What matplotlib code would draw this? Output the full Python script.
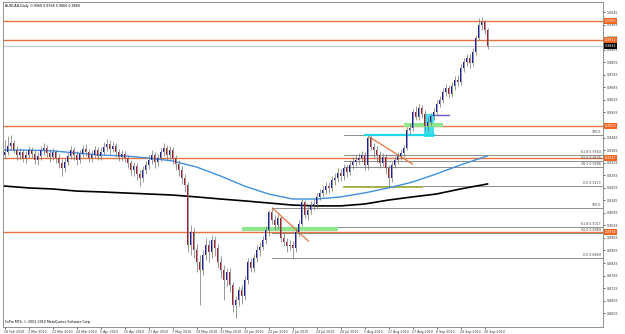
import numpy as np
import matplotlib
matplotlib.use('Agg')
import matplotlib.pyplot as plt
from matplotlib.patches import Rectangle

# Заголовок окна графика
chart_title = 'AUDCAD,Daily  0.9960 0.9968 0.9866 0.9884'
copyright_text = 'FxPro MT4, \u00a9 2001-2010 MetaQuotes Software Corp.'

# Дневные свечи (оценка по картинке)
opens = [
    0.9361, 0.9376, 0.9404, 0.9419, 0.9385, 0.9361, 0.9376, 0.9347, 0.9361, 0.9385, 0.9366, 0.9338, 0.9357, 0.9385, 0.9395, 0.9371,
    0.9352, 0.9376, 0.9347, 0.9323, 0.9299, 0.9328, 0.9357, 0.9385, 0.9361, 0.9338, 0.9366, 0.9390, 0.9376, 0.9347, 0.9361, 0.9385,
    0.9357, 0.9376, 0.9400, 0.9414, 0.9390, 0.9404, 0.9376, 0.9352, 0.9366, 0.9347, 0.9323, 0.9290, 0.9309, 0.9271, 0.9251, 0.9290,
    0.9314, 0.9338, 0.9361, 0.9328, 0.9347, 0.9376, 0.9395, 0.9361, 0.9385, 0.9347, 0.9318,
    0.9290, 0.9251, 0.9218, 0.8931, 0.8994, 0.8907, 0.8850, 0.8812, 0.8883, 0.8931, 0.8898, 0.8955, 0.8917, 0.8850, 0.8812, 0.8764,
    0.8802, 0.8740, 0.8644, 0.8668, 0.8716, 0.8688,
    0.8764, 0.8850, 0.8821, 0.8869, 0.8907, 0.8922, 0.8955, 0.9003, 0.9089, 0.9051, 0.9027, 0.9060, 0.8965, 0.8946, 0.8927, 0.8931,
    0.8917, 0.8994, 0.9032, 0.9137,
    0.9075, 0.9099, 0.9118, 0.9127, 0.9161, 0.9180, 0.9194, 0.9213, 0.9204, 0.9242, 0.9251, 0.9275, 0.9261, 0.9299, 0.9280, 0.9314,
    0.9328, 0.9338, 0.9347, 0.9361,
    0.9314, 0.9443, 0.9400, 0.9385, 0.9361, 0.9323, 0.9352, 0.9299, 0.9251, 0.9314, 0.9338, 0.9357, 0.9371, 0.9395, 0.9481, 0.9491,
    0.9567, 0.9543, 0.9586, 0.9557,
    0.9500, 0.9519, 0.9548, 0.9567, 0.9605, 0.9624, 0.9662, 0.9682, 0.9653, 0.9691, 0.9720, 0.9710, 0.9777, 0.9806, 0.9825, 0.9801,
    0.9854, 0.9921, 0.9983, 0.9997, 0.9960,
]
highs = [
    0.9433, 0.9452, 0.9457, 0.9433, 0.9404, 0.9395, 0.9390, 0.9381, 0.9404, 0.9400, 0.9385, 0.9376, 0.9404, 0.9419, 0.9409, 0.9390,
    0.9395, 0.9385, 0.9366, 0.9342, 0.9347, 0.9376, 0.9404, 0.9400, 0.9381, 0.9385, 0.9409, 0.9414, 0.9390, 0.9385, 0.9404, 0.9400,
    0.9400, 0.9423, 0.9438, 0.9433, 0.9423, 0.9419, 0.9390, 0.9385, 0.9381, 0.9361, 0.9338, 0.9328, 0.9323, 0.9290, 0.9309, 0.9333,
    0.9361, 0.9385, 0.9376, 0.9366, 0.9395, 0.9419, 0.9409, 0.9404, 0.9400, 0.9361, 0.9338,
    0.9309, 0.9271, 0.9232, 0.9027, 0.9012, 0.8936, 0.8883, 0.8907, 0.8965, 0.8955, 0.8979, 0.8974, 0.8936, 0.8879, 0.8835, 0.8821,
    0.8821, 0.8754, 0.8688, 0.8735, 0.8740, 0.8783,
    0.8869, 0.8869, 0.8888, 0.8931, 0.8946, 0.8974, 0.9022, 0.9099, 0.9108, 0.9075, 0.9080, 0.9070, 0.8994, 0.8965, 0.8955, 0.8950,
    0.9012, 0.9051, 0.9151, 0.9146,
    0.9122, 0.9142, 0.9151, 0.9180, 0.9199, 0.9213, 0.9232, 0.9232, 0.9261, 0.9275, 0.9299, 0.9295, 0.9318, 0.9314, 0.9338, 0.9352,
    0.9361, 0.9371, 0.9381, 0.9376,
    0.9457, 0.9452, 0.9419, 0.9404, 0.9381, 0.9371, 0.9366, 0.9314, 0.9328, 0.9357, 0.9376, 0.9390, 0.9409, 0.9495, 0.9510, 0.9581,
    0.9596, 0.9605, 0.9600, 0.9577,
    0.9543, 0.9562, 0.9586, 0.9624, 0.9643, 0.9682, 0.9701, 0.9696, 0.9710, 0.9739, 0.9744, 0.9796, 0.9825, 0.9844, 0.9844, 0.9873,
    0.9935, 1.0016, 1.0021, 1.0007, 0.9968,
]
lows = [
    0.9347, 0.9361, 0.9385, 0.9371, 0.9338, 0.9342, 0.9328, 0.9323, 0.9347, 0.9347, 0.9318, 0.9314, 0.9338, 0.9361, 0.9352, 0.9328,
    0.9338, 0.9323, 0.9299, 0.9261, 0.9280, 0.9314, 0.9342, 0.9338, 0.9314, 0.9323, 0.9352, 0.9357, 0.9328, 0.9328, 0.9347, 0.9338,
    0.9338, 0.9361, 0.9381, 0.9366, 0.9376, 0.9357, 0.9333, 0.9333, 0.9328, 0.9299, 0.9266, 0.9261, 0.9242, 0.9213, 0.9232, 0.9271,
    0.9295, 0.9318, 0.9299, 0.9309, 0.9333, 0.9357, 0.9338, 0.9342, 0.9318, 0.9290, 0.9261,
    0.9223, 0.9185, 0.8898, 0.8883, 0.8869, 0.8802, 0.8644, 0.8788, 0.8860, 0.8850, 0.8869, 0.8879, 0.8821, 0.8773, 0.8668, 0.8735,
    0.8707, 0.8611, 0.8582, 0.8640, 0.8649, 0.8668,
    0.8745, 0.8802, 0.8802, 0.8850, 0.8879, 0.8907, 0.8936, 0.8974, 0.9032, 0.9003, 0.9008, 0.8946, 0.8927, 0.8898, 0.8907, 0.8869,
    0.8898, 0.8974, 0.9022, 0.9060,
    0.9051, 0.9080, 0.9099, 0.9108, 0.9146, 0.9161, 0.9175, 0.9180, 0.9189, 0.9218, 0.9232, 0.9237, 0.9242, 0.9256, 0.9266, 0.9295,
    0.9309, 0.9318, 0.9328, 0.9290,
    0.9290, 0.9385, 0.9347, 0.9328, 0.9299, 0.9309, 0.9271, 0.9213, 0.9232, 0.9299, 0.9318, 0.9338, 0.9352, 0.9385, 0.9462, 0.9476,
    0.9529, 0.9529, 0.9538, 0.9476,
    0.9471, 0.9500, 0.9529, 0.9553, 0.9591, 0.9610, 0.9643, 0.9634, 0.9639, 0.9672, 0.9691, 0.9696, 0.9758, 0.9787, 0.9777, 0.9787,
    0.9839, 0.9911, 0.9959, 0.9940, 0.9866,
]
closes = [
    0.9376, 0.9404, 0.9419, 0.9385, 0.9361, 0.9376, 0.9347, 0.9361, 0.9385, 0.9366, 0.9338, 0.9357, 0.9385, 0.9395, 0.9371, 0.9352,
    0.9376, 0.9347, 0.9323, 0.9299, 0.9328, 0.9357, 0.9385, 0.9361, 0.9338, 0.9366, 0.9390, 0.9376, 0.9347, 0.9361, 0.9385, 0.9357,
    0.9376, 0.9400, 0.9414, 0.9390, 0.9404, 0.9376, 0.9352, 0.9366, 0.9347, 0.9323, 0.9290, 0.9309, 0.9271, 0.9251, 0.9290, 0.9314,
    0.9338, 0.9361, 0.9328, 0.9347, 0.9376, 0.9395, 0.9361, 0.9385, 0.9347, 0.9318, 0.9290,
    0.9251, 0.9218, 0.8931, 0.8994, 0.8907, 0.8850, 0.8812, 0.8883, 0.8931, 0.8898, 0.8955, 0.8917, 0.8850, 0.8812, 0.8764, 0.8802,
    0.8740, 0.8644, 0.8668, 0.8716, 0.8688, 0.8764,
    0.8850, 0.8821, 0.8869, 0.8907, 0.8922, 0.8955, 0.9003, 0.9089, 0.9051, 0.9027, 0.9060, 0.8965, 0.8946, 0.8927, 0.8931, 0.8917,
    0.8994, 0.9032, 0.9137, 0.9075,
    0.9099, 0.9118, 0.9127, 0.9161, 0.9180, 0.9194, 0.9213, 0.9204, 0.9242, 0.9251, 0.9275, 0.9261, 0.9299, 0.9280, 0.9314, 0.9328,
    0.9338, 0.9347, 0.9361, 0.9314,
    0.9443, 0.9400, 0.9385, 0.9361, 0.9323, 0.9352, 0.9299, 0.9251, 0.9314, 0.9338, 0.9357, 0.9371, 0.9395, 0.9481, 0.9491, 0.9567,
    0.9543, 0.9586, 0.9557, 0.9500,
    0.9519, 0.9548, 0.9567, 0.9605, 0.9624, 0.9662, 0.9682, 0.9653, 0.9691, 0.9720, 0.9710, 0.9777, 0.9806, 0.9825, 0.9801, 0.9854,
    0.9921, 0.9983, 0.9997, 0.9960, 0.9884,
]

# Подписи дат (каждые 8 баров)
date_labels = ['18 Feb 2010', '2 Mar 2010', '12 Mar 2010', '24 Mar 2010', '5 Apr 2010', '15 Apr 2010',
               '27 Apr 2010', '7 May 2010', '19 May 2010', '31 May 2010', '10 Jun 2010', '22 Jun 2010',
               '2 Jul 2010', '14 Jul 2010', '26 Jul 2010', '5 Aug 2010', '17 Aug 2010', '27 Aug 2010',
               '8 Sep 2010', '20 Sep 2010', '30 Sep 2010']
date_step = 8

# Скользящие средние
ma_bars = [0, 8, 16, 24, 32, 40, 48, 56, 64, 72, 80, 88, 96, 104, 112, 120, 128, 136, 144, 152, 161]
ma_blue = [0.9385, 0.9385, 0.9381, 0.9371, 0.9361, 0.9357, 0.9347, 0.9333, 0.9304, 0.9261, 0.9213,
           0.9175, 0.9151, 0.9151, 0.9161, 0.9180, 0.9204, 0.9232, 0.9271, 0.9314, 0.9357]
ma_black = [0.9213, 0.9204, 0.9199, 0.9189, 0.9185, 0.9180, 0.9175, 0.9170, 0.9161, 0.9151, 0.9142,
            0.9132, 0.9122, 0.9118, 0.9118, 0.9127, 0.9146, 0.9161, 0.9175, 0.9199, 0.9223]

# Горизонтальные уровни
orange_levels = [1.0000, 0.9911, 0.9500, 0.9347, 0.8994]
bid_price = 0.9884
price_ticks = [1.0045, 0.9985, 0.9925, 0.9865, 0.9805, 0.9745, 0.9685, 0.9625, 0.9565, 0.9505, 0.9445,
               0.9385, 0.9325, 0.9265, 0.9205, 0.9145, 0.9085, 0.9025, 0.8965, 0.8905, 0.8845, 0.8785,
               0.8725, 0.8665, 0.8605]

# Фибоначчи: (начальный бар, максимум, минимум, уровни)
fib_upper = (113, 0.9457, 0.9213, [100.0, 61.8, 50.0, 38.2, 0.0])
fib_lower = (89, 0.9108, 0.8869, [100.0, 61.8, 50.0, 0.0])

# Прочие объекты: (бар1, цена1, бар2, цена2)
trend_lines = [(89.3, 0.9108, 101.3, 0.8950), (121.7, 0.9447, 136.0, 0.9318)]
green_lines = [(79, 111, 0.9008), (133, 146, 0.9505)]
olive_line = (113, 139, 0.9208)
cyan_line = (120, 143, 0.9457)
cyan_box = (139.7, 143.3, 0.9447, 0.9557)
purple_line = (142.7, 148.3, 0.9553)

ORANGE = '#e8743b'
TAG = '#f0641e'
BULL = '#1c1caa'
BEAR = '#a3202c'
FS = 2.3

fig = plt.figure(figsize=(6.25, 3.34), dpi=100)
ax = fig.add_axes([3 / 625, 7 / 334, 600 / 625, 325 / 334])
ax.set_xlim(-0.5, 199.5)
ax.set_ylim(0.8539, 1.0093)

assert len(opens) == len(highs) == len(lows) == len(closes)
x = np.arange(len(closes))
o = np.array(opens)
c = np.array(closes)
up = c >= o

# уровни и объекты
for lvl in orange_levels:
    ax.axhline(lvl, color=ORANGE, lw=1.0, zorder=1)
ax.axhline(bid_price, color='#c8c8c8', lw=0.8, zorder=1)

for start, hi, lo, ratios in (fib_upper, fib_lower):
    for r in ratios:
        p = lo + (hi - lo) * r / 100.0
        ax.plot([start, 199.5], [p, p], color='#8c8c8c', lw=0.7, zorder=1)
        if r == 100.0:
            txt = '100.0'
        else:
            txt = '%.1f %.4f' % (r, p)
        ax.text(198.8, p + 0.0003, txt, fontsize=FS, color='#404040', ha='right', va='bottom', zorder=5)

ax.add_patch(Rectangle((cyan_box[0], cyan_box[2]), cyan_box[1] - cyan_box[0], cyan_box[3] - cyan_box[2],
                       facecolor='#3ce0ee', edgecolor='none', zorder=1.5))
for b1, b2, p in green_lines:
    ax.plot([b1, b2], [p, p], color='#8ee68e', lw=3, solid_capstyle='butt', zorder=1.6)
ax.plot([olive_line[0], olive_line[1]], [olive_line[2]] * 2, color='#a8b040', lw=1.3, zorder=1.6)
ax.plot([cyan_line[0], cyan_line[1]], [cyan_line[2]] * 2, color='#20d8e8', lw=1.6, zorder=1.6)
ax.plot([purple_line[0], purple_line[1]], [purple_line[2]] * 2, color='#6a5acd', lw=1.0, zorder=1.6)
for b1, p1, b2, p2 in trend_lines:
    ax.plot([b1, b2], [p1, p2], color=ORANGE, lw=0.9, zorder=1.7)

# скользящие средние
ax.plot(ma_bars, ma_blue, color='#3f8fdc', lw=1.0, zorder=2)
ax.plot(ma_bars, ma_black, color='black', lw=1.2, zorder=2)

# свечи
ax.vlines(x, lows, highs, color='#707070', lw=0.5, zorder=3)
ax.bar(x[up], (c - o)[up], bottom=o[up], width=0.62, color=BULL, zorder=4, linewidth=0)
ax.bar(x[~up], (o - c)[~up], bottom=c[~up], width=0.62, color=BEAR, zorder=4, linewidth=0)

# ценовые метки справа
for lvl in orange_levels:
    ax.text(1.003, lvl, '%.4f' % lvl, transform=ax.get_yaxis_transform(), fontsize=FS, color='white',
            ha='left', va='center', clip_on=False, zorder=6,
            bbox=dict(boxstyle='square,pad=0.3', fc=TAG, ec='none'))
ax.text(1.003, bid_price, '%.4f' % bid_price, transform=ax.get_yaxis_transform(), fontsize=FS, color='white',
        ha='left', va='center', clip_on=False, zorder=6,
        bbox=dict(boxstyle='square,pad=0.3', fc='black', ec='none'))

# оси
ax.yaxis.tick_right()
ax.set_yticks(price_ticks)
ax.set_yticklabels(['%.4f' % t for t in price_ticks])
ax.tick_params(axis='y', labelsize=FS, length=1.5, width=0.5, pad=1.2, colors='#333333')
ticks_x = [i * date_step for i in range(len(date_labels))]
ax.set_xticks(ticks_x)
ax.set_xticklabels(date_labels, ha='left')
ax.tick_params(axis='x', labelsize=FS, length=1.5, width=0.5, pad=0.5, colors='#333333')
for sp in ax.spines.values():
    sp.set_color('#808080')
    sp.set_linewidth(0.6)

ax.text(0.004, 0.994, chart_title, transform=ax.transAxes, fontsize=FS, va='top', ha='left', color='black')
ax.text(0.003, 0.01, copyright_text, transform=ax.transAxes, fontsize=FS, va='bottom', ha='left', color='black')

fig.savefig('out.png', dpi=100, facecolor='white')
